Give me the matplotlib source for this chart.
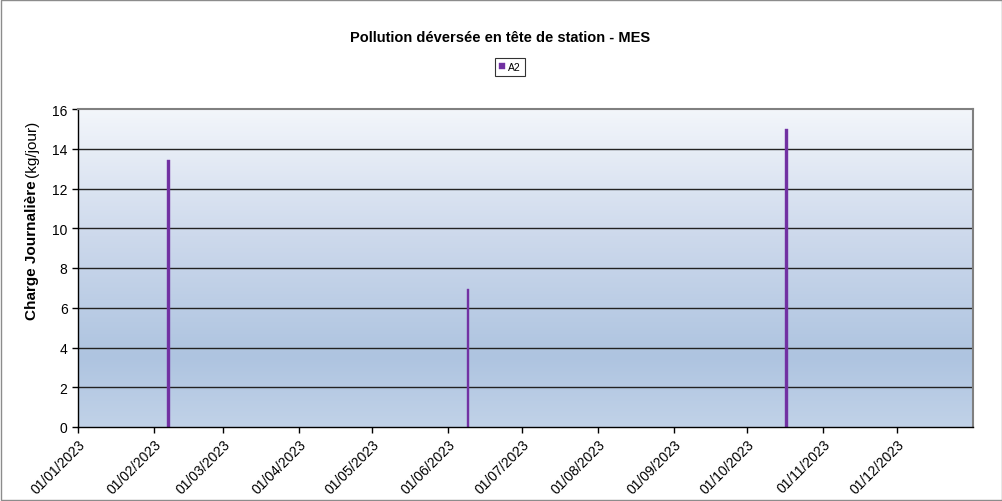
import numpy as np
import pandas as pd
import matplotlib.pyplot as plt
import matplotlib.dates as mdates
from matplotlib.colors import LinearSegmentedColormap
from matplotlib.patches import Rectangle

plt.rcParams['font.family'] = ['Liberation Sans', 'DejaVu Sans']

# Data
dates = pd.to_datetime(["2023-02-07", "2023-06-09", "2023-10-17"])
charge = [13.45, 6.95, 15.0]
series_name = "A2"
tick_dates = pd.date_range("2023-01-01", "2023-12-01", freq="MS")
y_ticks = [0, 2, 4, 6, 8, 10, 12, 14, 16]

fig = plt.figure(figsize=(10.03, 5.02), dpi=100)
ax = fig.add_axes([78 / 1003, 1 - 428 / 502, 895 / 1003, 318 / 502])

x0, x1 = mdates.date2num(pd.Timestamp("2023-01-01")), mdates.date2num(pd.Timestamp("2024-01-01"))

# gradient background like the Excel plot area
cmap = LinearSegmentedColormap.from_list(
    "bg", [(0.0, "#c1d2e8"), (0.22, "#aec4e0"), (0.6, "#cdd9ec"), (1.0, "#f3f6fb")])
grad = np.linspace(0, 1, 256).reshape(-1, 1)
ax.imshow(grad, aspect="auto", cmap=cmap, origin="lower",
          extent=[x0, x1, 0, 16], zorder=0)

for v in y_ticks[1:-1]:
    ax.axhline(v, color="#222222", lw=1.0, zorder=1)

ax.bar(dates, charge, width=1.1, color="#7030a0", edgecolor="#7c3cb0",
       linewidth=0.3, zorder=2, label=series_name)

ax.set_xlim(x0, x1)
ax.set_ylim(0, 16)
ax.set_yticks(y_ticks)
ax.set_xticks(tick_dates)
ax.xaxis.set_major_formatter(mdates.DateFormatter("%d/%m/%Y"))
for lbl in ax.get_xticklabels():
    lbl.set_rotation(45)
    lbl.set_ha("right")
    lbl.set_rotation_mode("anchor")
ax.tick_params(axis="both", labelsize=10, direction="out", length=4, width=1, color="black")
ax.tick_params(axis="x", pad=3)

for s in ["top", "right"]:
    ax.spines[s].set_color("#808080")
    ax.spines[s].set_linewidth(1.5)
for s in ["left", "bottom"]:
    ax.spines[s].set_color("black")
    ax.spines[s].set_linewidth(1)

fig.text(500 / 1003, 1 - 38 / 502, "Pollution déversée en tête de station - MES",
         ha="center", va="center", fontsize=10.5, fontweight="bold")

leg = fig.legend(loc="center", bbox_to_anchor=(510 / 1003, 1 - 68 / 502),
                 fontsize=7.5, frameon=True, fancybox=False, handlelength=0.5,
                 handleheight=0.5, handletextpad=0.3, borderpad=0.4, borderaxespad=0)
leg.get_frame().set_edgecolor("black")
leg.get_frame().set_linewidth(0.8)

# y label: bold part then normal part
t1 = fig.text(32 / 1003, 1 - 320 / 502, "Charge Journalière", rotation=90,
              ha="center", va="bottom", fontsize=11, fontweight="bold")
fig.canvas.draw()
bb = t1.get_window_extent()
fig.text(32 / 1003, (bb.y1 + 3) / fig.bbox.height, "(kg/jour)", rotation=90,
         ha="center", va="bottom", fontsize=11)

fig.patches.append(Rectangle((1 / 1003, 1 / 502), 1001 / 1003, 500 / 502,
                             transform=fig.transFigure, fill=False,
                             edgecolor="#8c8c8c", lw=1))

fig.savefig("out.png", dpi=100)
